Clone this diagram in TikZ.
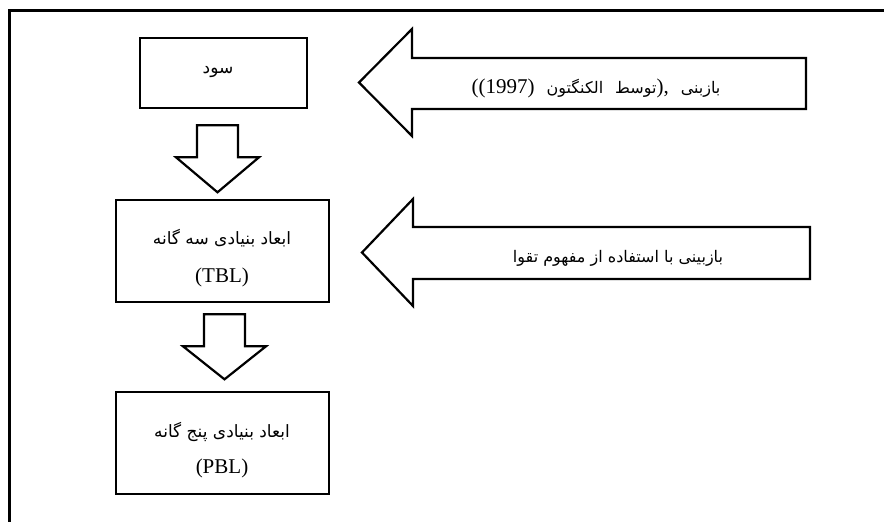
\documentclass[tikz,border=0pt]{standalone}
\usepackage{fontspec}
\setmainfont{Liberation Serif}
\newfontfamily\arabicfont[Script=Arabic]{DejaVu Sans}
\newcommand\latbig{\rmfamily\fontsize{21}{24}\selectfont}
\newcommand\wsp{\hspace{12pt}}
\TeXXeTstate=1
\begin{document}
\begin{tikzpicture}[x=1pt,y=-1pt,
  frame/.style={line width=3pt},
  box/.style={draw, line width=2.6pt, inner sep=0pt},
  blk/.style={draw, line width=2.2pt, line join=miter},
  artext/.style={font=\arabicfont\fontsize{17}{20}\selectfont, inner sep=0pt},
  arrtext/.style={font=\arabicfont\fontsize{16}{20}\selectfont, inner sep=0pt},
  latext/.style={font=\latbig, inner sep=0pt}]
\useasboundingbox (0,0) rectangle (884,522);
\draw[frame] (9,522) -- (9,10) -- (884,10);
% boxes
\node[box, minimum width=167pt, minimum height=70pt] (b1) at (223.5,73) {};
\node[box, minimum width=213pt, minimum height=102pt] (b2) at (222.5,251) {};
\node[box, minimum width=213pt, minimum height=102pt] (b3) at (222.5,443) {};
\node[artext] (t1) at (218,72) {\beginR سود\endR};
\node[artext] (t2a) at (222,238) {\beginR ابعاد بنیادی سه گانه\endR};
\node[latext] (t2b) at (222,277) {(TBL)};
\node[artext] (t3a) at (222,432) {\beginR ابعاد بنیادی پنج گانه\endR};
\node[latext] (t3b) at (222,468) {(PBL)};
% down block arrows
\draw[blk] (b1.south) ++(-26.5,16) -- ++(41,0) -- ++(0,32) -- ++(21,0)
  -- ++(-41.5,35) -- ++(-41.5,-35) -- ++(21,0) -- cycle;
\draw[blk] (b2.south) ++(-18.5,11) -- ++(41,0) -- ++(0,32) -- ++(21,0)
  -- ++(-41.5,33) -- ++(-41.5,-33) -- ++(21,0) -- cycle;
% left block arrows
\coordinate (tipA) at (359,82.5);
\draw[blk] (tipA) -- (412,29) -- (412,58) -- (806,58) -- (806,109)
  -- (412,109) -- (412,136) -- cycle;
\node[arrtext] (ta) at (596,88) {\beginR بازبنی\wsp{\latbig ),}توسط\wsp الکنگتون\wsp\beginL{\latbig ((1997)}\endL\endR};
\coordinate (tipB) at (362,252.5);
\draw[blk] (tipB) -- (413,199) -- (413,227) -- (810,227) -- (810,279)
  -- (413,279) -- (413,306) -- cycle;
\node[arrtext] (tb) at (618,258) {\beginR بازبینی با استفاده از مفهوم تقوا\endR};
\end{tikzpicture}
\end{document}
